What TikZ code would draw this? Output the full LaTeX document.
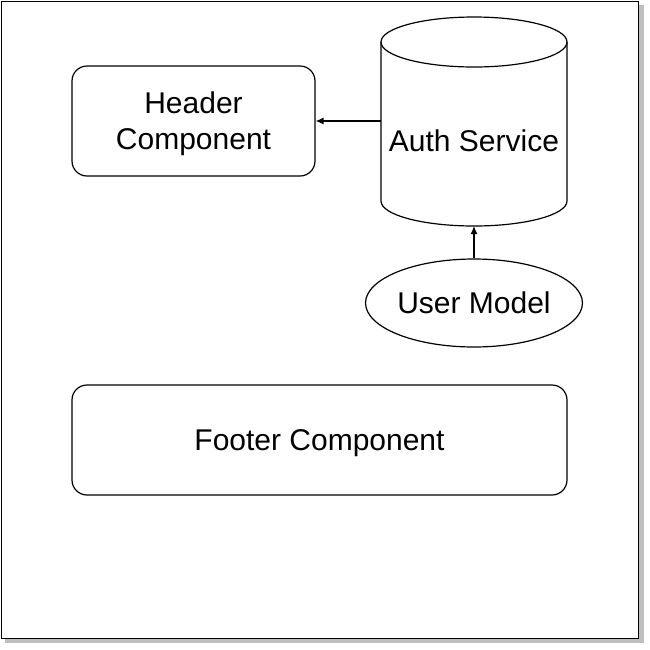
\documentclass[tikz,border=0pt]{standalone}
\usepackage{fontspec}
\setmainfont{Liberation Sans}
\usetikzlibrary{shapes.geometric, arrows.meta}

\newcommand{\baixa}{\rule{0pt}{14pt}}

\begin{document}
\begin{tikzpicture}[x=0.5pt, y=-0.5pt, line width=0.6pt,
    font=\fontsize{15pt}{18pt}\selectfont,
    caixa/.style={draw, rounded corners=7.5pt, align=center, inner sep=0pt, minimum height=55pt},
    fletxa/.style={-{Latex[length=4pt, width=3.5pt]}}]
\useasboundingbox (0,0) rectangle (650,650);

% marc amb ombra
\fill[black!25] (5,5) rectangle (644,643);
\draw[fill=white, line width=0.5pt] (1,1) rectangle (639,638);

% components
\node[caixa, minimum width=121.5pt] (header) at (193.5,121) {\baixa Header\\Component};
\node[caixa, minimum width=247.5pt] (footer) at (319.5,440) {\baixa Footer Component};

% cilindre del servei
\draw (381,42) -- (381,201) arc[start angle=180, end angle=360, x radius=46.5pt, y radius=12.5pt] -- (567,42);
\draw (474,42) ellipse[x radius=46.5pt, y radius=12.5pt];
\node (auth) at (474,141) {Auth Service};
\coordinate (authW) at (381,121);
\coordinate (authS) at (474,226);

\node[draw, ellipse, minimum width=107pt, minimum height=44pt, inner sep=0pt] (user) at (474,303) {User Model};

% fletxes
\draw[fletxa] (authW) -- (header.east);
\draw[fletxa] (user.north) -- (authS);

\end{tikzpicture}
\end{document}
